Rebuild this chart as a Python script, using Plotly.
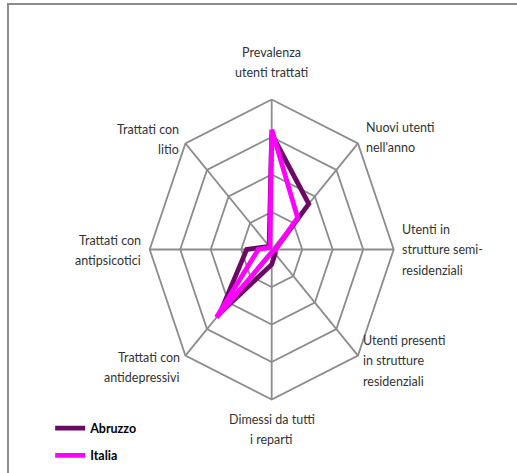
import numpy as np
import plotly.graph_objects as go

categories = [
    ["Prevalenza", "utenti trattati"],
    ["Nuovi utenti", "nell'anno"],
    ["Utenti in", "strutture semi-", "residenziali"],
    ["Utenti presenti", "in strutture", "residenziali"],
    ["Dimessi da tutti", "i reparti"],
    ["Trattati con", "antidepressivi"],
    ["Trattati con", "antipsicotici"],
    ["Trattati con", "litio"],
]
abruzzo = [0.77, 0.43, 0.03, 0.04, 0.10, 0.60, 0.205, 0.03]
italia = [0.80, 0.30, 0.03, 0.02, 0.02, 0.64, 0.11, 0.02]
grid_levels = [0.25, 0.5, 0.75, 1.0]

W, H = 517, 473
cx, cy = 271.7, 249.5      # centre in pixels
sx, sy = 122.0, 150.0      # pixels per unit (Excel stretched the radar)

n = len(categories)
ang = np.radians(90 - 45 * np.arange(n))


def xy(vals):
    v = np.asarray(vals, dtype=float)
    x = v * np.cos(ang)
    y = v * np.sin(ang)
    return np.append(x, x[0]), np.append(y, y[0])


fig = go.Figure()

grid_col = "#8c8c8c"
for lv in grid_levels:
    gx, gy = xy([lv] * n)
    fig.add_trace(go.Scatter(x=gx, y=gy, mode="lines", hoverinfo="skip",
                             line=dict(color=grid_col, width=1.8), showlegend=False))
for a in ang:
    fig.add_trace(go.Scatter(x=[0, np.cos(a)], y=[0, np.sin(a)], mode="lines",
                             hoverinfo="skip", line=dict(color=grid_col, width=1.8),
                             showlegend=False))

ax, ay = xy(abruzzo)
fig.add_trace(go.Scatter(x=ax, y=ay, mode="lines", name="Abruzzo", legendgroup="a",
                         line=dict(color="#6b0a65", width=4.8)))
ix, iy = xy(italia)
fig.add_trace(go.Scatter(x=ix, y=iy, mode="lines", name="Italia", legendgroup="b",
                         line=dict(color="#ff00ff", width=4.8)))

# axis labels: anchor side, x/y pixel offset of the text block centre from the outer vertex
label_pos = [
    ("center", 0, -37),
    ("left", 6, -6),
    ("left", 6, 0),
    ("left", 3, 5),
    ("center", 0, 30),
    ("right", -3, 12),
    ("right", -7, 1),
    ("right", -4, -4),
]
line_h = 20.5
for lines, a, (anc, dx, dy) in zip(categories, ang, label_pos):
    k = len(lines)
    for j, t in enumerate(lines):
        off = dy + (j - (k - 1) / 2) * line_h
        fig.add_annotation(x=np.cos(a), y=np.sin(a), text=t, showarrow=False,
                           xanchor=anc, yanchor="middle", xshift=dx, yshift=-off,
                           align="center",
                           font=dict(family="Lato", size=12.5, color="#333333"))

fig.add_shape(type="rect", xref="paper", yref="paper",
              x0=8 / W, x1=1.02, y0=-0.02, y1=1 - 4 / H,
              line=dict(color="#8c8c8c", width=2))

fig.update_xaxes(range=[-cx / sx, (W - cx) / sx], visible=False, domain=[0, 1])
fig.update_yaxes(range=[-(H - cy) / sy, cy / sy], visible=False, domain=[0, 1])
fig.update_layout(
    width=W, height=H,
    margin=dict(l=0, r=0, t=0, b=0),
    paper_bgcolor="white", plot_bgcolor="white",
    showlegend=True,
    legend=dict(x=0.097, y=0.126, xanchor="left", yanchor="top",
                bgcolor="rgba(0,0,0,0)", tracegroupgap=8, itemwidth=30,
                font=dict(family="Lato", size=12.5, color="#000000", weight="bold")),
)

fig.write_html("out.html", config={"displayModeBar": False},
               post_script="document.body.style.margin='0';")
